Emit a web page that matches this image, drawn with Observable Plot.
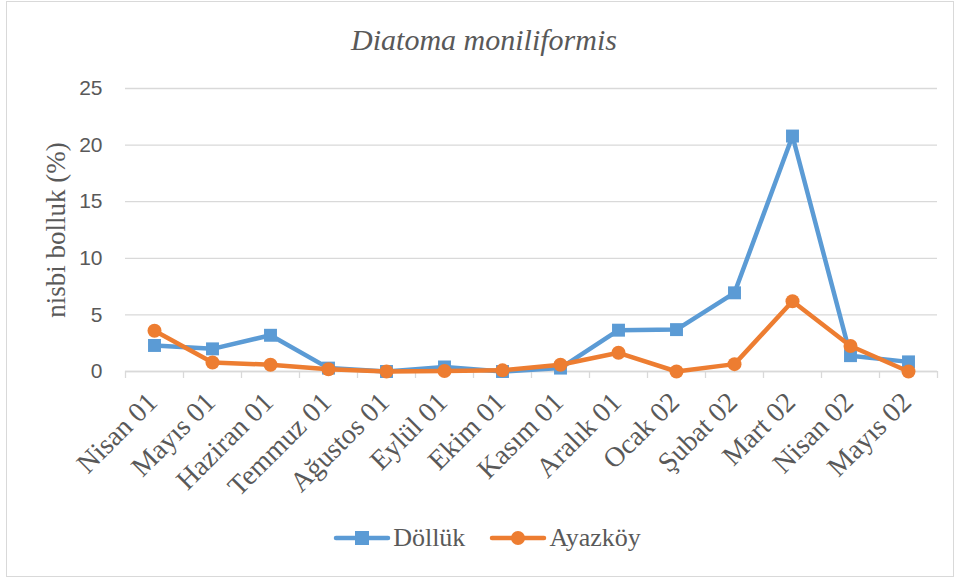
<!DOCTYPE html>
<html>
<head>
<meta charset="utf-8">
<script src="https://cdn.jsdelivr.net/npm/d3@7"></script>
<script src="https://cdn.jsdelivr.net/npm/@observablehq/plot@0.6"></script>
<style>
  html, body { margin: 0; padding: 0; background: #fff; }
  #chart { position: relative; width: 958px; height: 578px; overflow: hidden; background: #fff; }
  #frame { position: absolute; left: 6px; top: 1px; width: 946px; height: 574px; border: 1px solid #d9d9d9; }
  .serif { font-family: "Liberation Serif", "Times New Roman", "DejaVu Serif", serif; color: #595959; }
  #title { position: absolute; left: 0; width: 968px; top: 23px; text-align: center;
           font-style: italic; font-size: 30px; }
  #ylabel { position: absolute; left: 56px; top: 230px; transform: translate(-50%, -50%) rotate(-90deg);
            white-space: nowrap; font-size: 27px; }
  #legend { position: absolute; left: 0; width: 958px; top: 523px; display: flex; justify-content: center;
            font-size: 26px; padding-left: 16px; box-sizing: border-box; }
  .item { display: flex; align-items: center; margin: 0 12px 0 12px; }
  .item svg { margin-right: 2px; }
  #plot { position: absolute; left: 0; top: 0; }
</style>
</head>
<body>
<div id="chart">
  <div id="frame"></div>
  <div id="plot"></div>
  <div id="title" class="serif">Diatoma moniliformis</div>
  <div id="ylabel" class="serif">nisbi bolluk (%)</div>
  <div id="legend" class="serif"></div>
</div>
<script>
const months = ["Nisan 01", "Mayıs 01", "Haziran 01", "Temmuz 01", "Ağustos 01", "Eylül 01", "Ekim 01",
  "Kasım 01", "Aralık 01", "Ocak 02", "Şubat 02", "Mart 02", "Nisan 02", "Mayıs 02"];
const dollukValues = [2.3, 2.0, 3.2, 0.3, 0.0, 0.4, 0.0, 0.3, 3.65, 3.7, 6.95, 20.8, 1.4, 0.85];
const ayazkoyValues = [3.6, 0.8, 0.6, 0.2, 0.0, 0.05, 0.1, 0.6, 1.65, 0.0, 0.65, 6.2, 2.25, 0.0];
const seriesNames = ["Döllük", "Ayazköy"];
const seriesColors = ["#5B9BD5", "#ED7D31"];
const yTicks = [0, 5, 10, 15, 20, 25];

const doll = months.map((m, i) => ({i, month: m, value: dollukValues[i]}));
const ayaz = months.map((m, i) => ({i, month: m, value: ayazkoyValues[i]}));
const boundaries = months.map((_, i) => i - 0.5).concat([months.length - 0.5]);

const chart = Plot.plot({
  width: 958,
  height: 500,
  marginLeft: 125,
  marginRight: 21,
  marginTop: 88,
  marginBottom: 129,
  style: {fontFamily: "Liberation Serif", background: "transparent", overflow: "visible"},
  x: {type: "linear", domain: [-0.5, months.length - 0.5], axis: null},
  y: {domain: [0, 25], axis: null},
  marks: [
    Plot.gridY(yTicks, {stroke: "#d9d9d9", strokeOpacity: 1, strokeWidth: 1.3}),
    Plot.axisY(yTicks, {label: null, tickSize: 0, tickPadding: 23, fontFamily: "Liberation Sans", fontSize: 21, fill: "#595959", tickFormat: d => d}),
    Plot.ruleY([0], {stroke: "#d9d9d9", strokeWidth: 1.3}),
    Plot.axisX(boundaries, {label: null, tickSize: 7, stroke: "#d9d9d9", strokeWidth: 1.3, tickFormat: () => ""}),
    Plot.text(months, {x: (d, i) => i, frameAnchor: "bottom", text: d => d, rotate: -45, textAnchor: "end",
      lineAnchor: "middle", dx: -2, dy: 26, fontSize: 28, fill: "#595959", fontFamily: "Liberation Serif"}),
    Plot.line(doll, {x: "i", y: "value", stroke: seriesColors[0], strokeWidth: 4.5}),
    Plot.dot(doll, {x: "i", y: "value", symbol: "square", r: 7.3, fill: seriesColors[0], stroke: "none"}),
    Plot.line(ayaz, {x: "i", y: "value", stroke: seriesColors[1], strokeWidth: 4.5}),
    Plot.dot(ayaz, {x: "i", y: "value", symbol: "circle", r: 7, fill: seriesColors[1], stroke: "none"})
  ]
});
document.getElementById("plot").appendChild(chart);

const legend = document.getElementById("legend");
seriesNames.forEach((name, k) => {
  const item = document.createElement("div");
  item.className = "item";
  const marker = k === 0
    ? `<rect x="22" y="7" width="14" height="14" fill="${seriesColors[k]}"/>`
    : `<circle cx="29" cy="14" r="7" fill="${seriesColors[k]}"/>`;
  item.innerHTML = `<svg width="58" height="28"><line x1="3" x2="55" y1="14" y2="14" stroke="${seriesColors[k]}" stroke-width="4.5" stroke-linecap="round"/>${marker}</svg><span>${name}</span>`;
  legend.appendChild(item);
});
</script>
</body>
</html>
